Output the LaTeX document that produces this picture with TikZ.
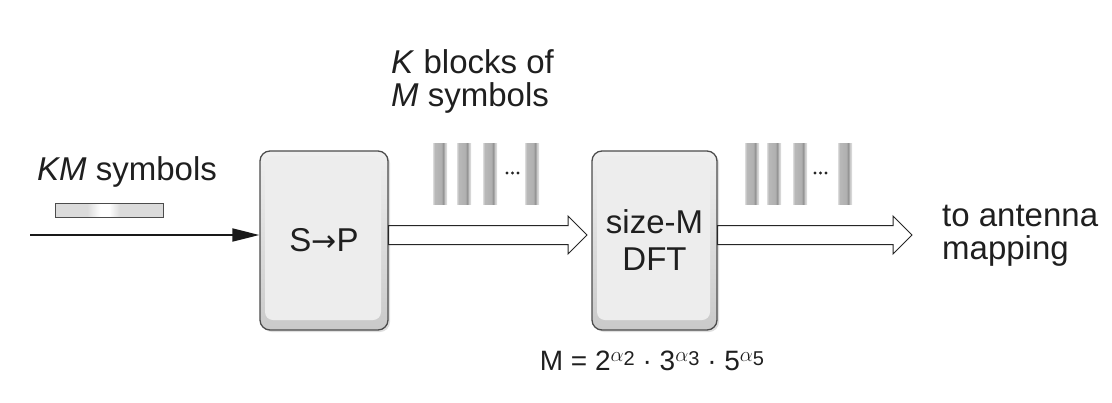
\documentclass[tikz,border=0pt]{standalone}
\usepackage{fontspec}
\setmainfont{Liberation Sans}
\newfontfamily\arrfont{DejaVu Sans}
\usetikzlibrary{arrows.meta,calc,shadows}
\colorlet{bA}{gray!28}
\colorlet{bB}{gray!55}
\colorlet{bC}{gray!62}
\colorlet{bD}{gray!88}
\colorlet{bE}{gray!45}
\colorlet{bF}{gray!22}
\colorlet{kA}{gray!28}
\pgfdeclarehorizontalshading{barshade}{100bp}{color(0bp)=(bA); color(25bp)=(bA); color(31bp)=(bB); color(55bp)=(bC); color(62bp)=(bD); color(67bp)=(bE); color(75bp)=(bF); color(100bp)=(bF)}
\pgfdeclarehorizontalshading{kmshade}{100bp}{color(0bp)=(kA); color(25bp)=(kA); color(40bp)=(kA); color(46bp)=(white); color(50bp)=(white); color(55bp)=(kA); color(75bp)=(kA); color(100bp)=(kA)}
\newcommand\pw[1]{\raisebox{9pt}{\fontsize{20}{20}\selectfont$\alpha$\raisebox{-4pt}{#1}}}
\newcommand\blockarrow[2]{%
  \draw[hollow] ($(#1)+(0,-9.5)$) -- ($(#2)+(-19,-9.5)$) -- ($(#2)+(-19,-19)$) -- (#2)
    -- ($(#2)+(-19,19)$) -- ($(#2)+(-19,9.5)$) -- ($(#1)+(0,9.5)$) -- cycle;}
\begin{document}
\begin{tikzpicture}[x=1pt,y=-1pt,
  txt/.style={inner sep=0pt, text=black!88, font=\fontsize{33}{33}\selectfont},
  blk/.style={rounded corners=10pt, draw=black!70, line width=1.3pt,
    top color=gray!12, bottom color=gray!42,
    drop shadow={opacity=0.25, shadow xshift=2pt, shadow yshift=-2pt},
    minimum height=179pt, inner sep=0pt, text=black!88,
    font=\fontsize{33}{37}\selectfont, align=center,
    path picture={\fill[gray!14, rounded corners=8pt]
      ([xshift=5pt,yshift=-5pt]path picture bounding box.north west) rectangle
      ([xshift=-7pt,yshift=10pt]path picture bounding box.south east);}},
  hollow/.style={draw=black!85, fill=white, line width=1pt, line join=miter},
  bar/.style={shading=barshade},
  dot/.style={fill=black!85, circle, inner sep=0pt, minimum size=3.4pt}
]
\useasboundingbox (0,0) rectangle (1112,402);

% blocks
\node[blk, minimum width=128pt] (sp) at (324,240.5) {S{\arrfont\fontsize{30}{30}\selectfont →}P};
\node[blk, minimum width=125pt] (dft) at (654.5,240.5) {size-M\\DFT};

% input line
\coordinate (in) at (30,235);
\draw[line width=1.8pt, black!90, -{Triangle[length=27pt,width=13pt]}] (in) -- (in -| sp.west);

% hollow arrows
\coordinate (a1s) at (sp.east |- in);
\coordinate (t1) at (587,235);
\blockarrow{a1s}{t1}
\coordinate (a2s) at (dft.east |- in);
\coordinate (t2) at (912,235);
\blockarrow{a2s}{t2}

% KM symbols bar
\shade[shading=kmshade, draw=black!70, line width=0.8pt] (55,203) rectangle (163,217);

% bars group 1
\foreach \x in {433,457,483,525} {\shade[bar] (\x,143) rectangle ++(14,61);}
\node[dot] (d1) at (507,173) {};
\node[dot] (d2) at (512.5,173) {};
\node[dot] (d3) at (518,173) {};
% bars group 2
\foreach \x in {745,767,793,838} {\shade[bar] (\x,143) rectangle ++(14,61);}
\node[dot] (e1) at (815,173) {};
\node[dot] (e2) at (820.5,173) {};
\node[dot] (e3) at (826,173) {};

% labels
\node[txt, anchor=base west] (km) at (37,180) {\textit{KM} symbols};
\node[txt, anchor=base west] (kb1) at (391,73) {\textit{K} blocks of};
\node[txt, anchor=base west] (kb2) at (391,106) {\textit{M} symbols};
\node[txt, anchor=base west] (ant1) at (942,226) {to antenna};
\node[txt, anchor=base west] (ant2) at (942,259) {mapping};
\node[txt, anchor=base, font=\fontsize{28}{28}\selectfont] (form) at (652,370)
  {M = 2\pw{2} · 3\pw{3} · 5\pw{5}};
\end{tikzpicture}
\end{document}
